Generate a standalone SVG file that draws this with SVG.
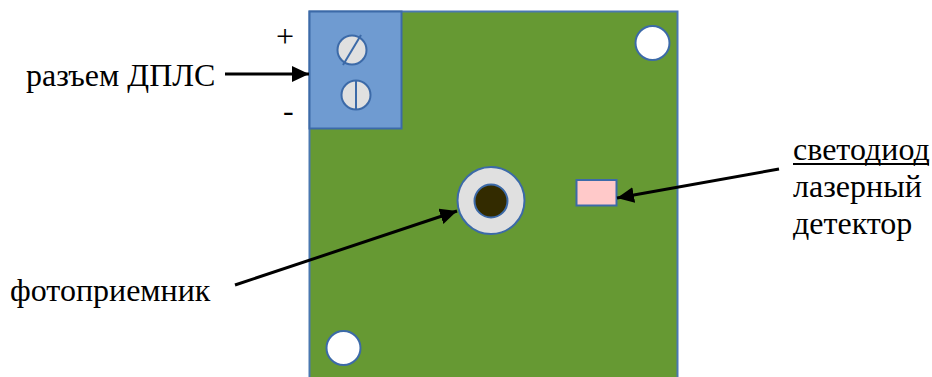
<svg xmlns="http://www.w3.org/2000/svg" width="932" height="377" viewBox="0 0 932 377">
<defs>
<style>
.s{stroke:#3c6aa8;stroke-width:2}
.t{font-family:"Liberation Serif",serif;font-size:32px;fill:#000}
.c{stroke:#000;stroke-width:3;fill:none;marker-end:url(#a)}
</style>
<marker id="a" markerUnits="userSpaceOnUse" markerWidth="18" markerHeight="16" refX="17" refY="8" orient="auto"><path d="M0 0L17 8L0 16Z" fill="#000"/></marker>
</defs>
<rect width="932" height="377" fill="#fff"/>
<g id="board"><path d="M309.500 377V11.500H677.500V377" fill="#669933" stroke="#4a78b0" stroke-width="2"/></g>
<g id="connector-block"><rect x="309.500" y="11.500" width="92" height="117" fill="#6f9bd1" class="s"/>
<circle cx="352" cy="50" r="14.500" fill="#e0e0e0" class="s"/><path d="M343 65L361 35" class="s" fill="none"/>
<circle cx="356" cy="95" r="14.500" fill="#e0e0e0" class="s"/><path d="M356 80V110" class="s" fill="none"/></g>
<g id="hole-top"><circle cx="652.500" cy="43" r="17" fill="#fff" class="s"/></g>
<g id="hole-bottom"><circle cx="343.500" cy="348" r="17" fill="#fff" class="s"/></g>
<g id="photoreceiver"><circle cx="491" cy="200.500" r="33.500" fill="#e0e0e0" class="s"/><circle cx="491" cy="201" r="16.500" fill="#332b00" class="s"/></g>
<g id="led"><rect x="576.500" y="180" width="40" height="25.500" fill="#ffc9c9" class="s"/></g>
<g id="connectors">
<path class="c" d="M225 74H309"/>
<path class="c" d="M235 285L457 211"/>
<path class="c" d="M779 169L617 198"/>
</g>
<g id="labels">
<text class="t" x="26" y="86">разъем ДПЛС</text>
<text class="t" x="276" y="47">+</text>
<text class="t" x="283" y="121">-</text>
<text class="t" x="10" y="301">фотоприемник</text>
<text class="t" x="793" y="160">светодиод</text>
<rect x="793" y="163" width="136" height="2" fill="#000"/>
<text class="t" x="793" y="197">лазерный</text>
<text class="t" x="793" y="234">детектор</text>
</g>
</svg>
